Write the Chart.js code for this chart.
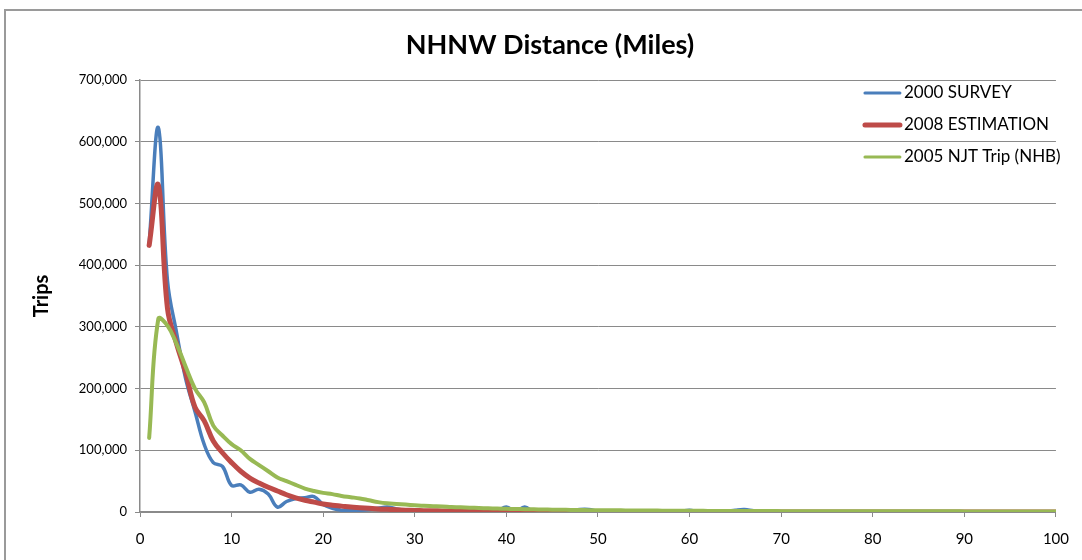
<!DOCTYPE html>
<html>
<head>
<meta charset="utf-8">
<title>NHNW Distance (Miles)</title>
<script src="https://cdn.jsdelivr.net/npm/chart.js@4"></script>
<style>
    body { margin: 0; background: #fff; overflow: hidden; }
    .wrap { position: relative; width: 1082px; height: 560px; }
    .frame { position: absolute; left: 4px; top: 9px; width: 1120px; height: 600px; border: 2px solid #9a9a9a; box-sizing: border-box; }
    canvas { position: absolute; left: 0; top: 0; }
</style>
</head>
<body>
<div class="wrap">
    <div class="frame"></div>
    <canvas id="distChart" width="1082" height="560"></canvas>
</div>
<script>
const chartTitle = 'NHNW Distance (Miles)';

// Trip length in miles (x values)
const miles = [
    1, 2, 3, 4, 5, 6, 7, 8, 9, 10,
    11, 12, 13, 14, 15, 16, 17, 18, 19, 20,
    21, 22, 23, 24, 25, 26, 27, 28, 29, 30,
    31, 32, 33, 34, 35, 36, 37, 38, 39, 40,
    41, 42, 43, 44, 45, 46, 47, 48, 49, 50,
    51, 52, 53, 54, 55, 56, 57, 58, 59, 60,
    61, 62, 63, 64, 65, 66, 67, 68, 69, 70,
    71, 72, 73, 74, 75, 76, 77, 78, 79, 80,
    81, 82, 83, 84, 85, 86, 87, 88, 89, 90,
    91, 92, 93, 94, 95, 96, 97, 98, 99, 100
];

// 2000 SURVEY
const survey2000 = [
    435000, 623000, 375000, 290000, 215000, 163000, 110000, 80000, 74000, 43000,
    44000, 32000, 37000, 29000, 8000, 17000, 22000, 23000, 25000, 12000,
    6000, 3000, 3000, 3000, 4000, 6000, 8000, 5000, 3000, 2000,
    2000, 1000, 1000, 2000, 1000, 1000, 2000, 3000, 2000, 8000,
    1000, 8000, 0, 1000, 0, 1000, 2000, 4000, 4000, 1000,
    0, 1000, 0, 1000, 0, 1000, 0, 1000, 1000, 3000,
    0, 0, 1000, 1000, 3000, 4000, 2000, 1000, 0, 0,
    0, 0, 0, 0, 0, 0, 0, 0, 0, 0,
    0, 0, 0, 0, 0, 0, 0, 0, 0, 0,
    0, 0, 0, 0, 0, 0, 0, 0, 0, 0
];

// 2008 ESTIMATION
const estimation2008 = [
    432000, 530000, 330000, 272000, 225000, 170000, 148000, 115000, 96000, 80000,
    66000, 55000, 47000, 40000, 34000, 28000, 23000, 19000, 16000, 13000,
    11000, 9500, 8000, 7000, 6000, 5000, 4300, 3600, 3000, 2500,
    2200, 2000, 1800, 1600, 1400, 1300, 1200, 1100, 1000, 900,
    850, 800, 750, 700, 650, 600, 560, 520, 480, 450,
    420, 400, 380, 360, 340, 320, 300, 290, 280, 270,
    260, 250, 240, 230, 220, 210, 200, 190, 180, 170,
    160, 150, 150, 140, 130, 130, 120, 110, 110, 100,
    100, 90, 90, 80, 80, 80, 70, 70, 70, 60,
    60, 60, 60, 50, 50, 50, 50, 50, 40, 40
];

// 2005 NJT Trip (NHB)
const njt2005 = [
    120000, 313000, 302000, 272000, 235000, 200000, 178000, 140000, 124000, 110000,
    100000, 86000, 76000, 66000, 56000, 50000, 44000, 38000, 34000, 31000,
    29000, 26000, 24000, 22000, 19000, 16000, 14000, 13000, 12000, 11000,
    10000, 9500, 9000, 8200, 7600, 7000, 6500, 6000, 5600, 5200,
    4900, 4600, 4300, 4000, 3800, 3600, 3400, 3200, 3000, 2900,
    2800, 2700, 2600, 2500, 2400, 2300, 2200, 2100, 2000, 1900,
    1850, 1800, 1750, 1700, 1650, 1600, 1550, 1500, 1450, 1400,
    1380, 1350, 1330, 1300, 1280, 1250, 1230, 1200, 1180, 1150,
    1130, 1100, 1090, 1080, 1060, 1050, 1040, 1030, 1020, 1010,
    1000, 990, 980, 970, 960, 950, 940, 930, 920, 910
];

const yTicks = [0, 100000, 200000, 300000, 400000, 500000, 600000, 700000];
const xTicks = [0, 10, 20, 30, 40, 50, 60, 70, 80, 90, 100];

function toPoints(values) {
    return values.map((v, i) => ({ x: miles[i], y: v }));
}

// Title centred on the whole frame, legend drawn inside the plot area
const chartDecor = {
    id: 'chartDecor',
    afterDraw(chart) {
        const ctx = chart.ctx;
        const area = chart.chartArea;
        ctx.save();

        ctx.fillStyle = '#000';
        ctx.font = 'bold 27px Lato';
        ctx.textAlign = 'center';
        ctx.textBaseline = 'middle';
        ctx.fillText(chartTitle, 550, 45);

        ctx.font = '17px Lato';
        ctx.textAlign = 'left';
        chart.data.datasets.forEach((ds, i) => {
            const y = area.top + 13 + i * 32;
            const x = area.right - 191;
            ctx.strokeStyle = ds.borderColor;
            ctx.lineWidth = ds.legendWidth;
            ctx.lineCap = 'round';
            ctx.beginPath();
            ctx.moveTo(x, y);
            ctx.lineTo(x + 35, y);
            ctx.stroke();
            ctx.fillStyle = '#000';
            ctx.fillText(ds.label, x + 39, y);
        });
        ctx.restore();
    }
};

document.addEventListener('DOMContentLoaded', function() {
    const canvas = document.getElementById('distChart');

    new Chart(canvas, {
        type: 'line',
        data: {
            datasets: [{
                label: '2000 SURVEY',
                data: toPoints(survey2000),
                borderColor: '#4a7ebb',
                borderWidth: 3.5,
                legendWidth: 3,
                order: 3
            }, {
                label: '2008 ESTIMATION',
                data: toPoints(estimation2008),
                borderColor: '#be4b48',
                borderWidth: 5,
                legendWidth: 5,
                order: 2
            }, {
                label: '2005 NJT Trip (NHB)',
                data: toPoints(njt2005),
                borderColor: '#98b954',
                borderWidth: 4,
                legendWidth: 3,
                order: 1
            }]
        },
        options: {
            responsive: false,
            animation: false,
            layout: { padding: { left: 0, right: 22, top: 80, bottom: 0 } },
            elements: {
                point: { radius: 0 },
                line: { tension: 0.4, fill: false, borderCapStyle: 'round', borderJoinStyle: 'round' }
            },
            plugins: {
                legend: { display: false },
                tooltip: { enabled: false },
                title: { display: false }
            },
            scales: {
                x: {
                    type: 'linear',
                    min: 0,
                    max: 100,
                    afterBuildTicks: function(scale) {
                        scale.ticks = xTicks.map(v => ({ value: v }));
                    },
                    afterFit: function(scale) { scale.height = 48; },
                    grid: {
                        display: true,
                        drawOnChartArea: false,
                        drawTicks: true,
                        tickLength: 5,
                        color: '#8a8a8a'
                    },
                    border: { color: '#8a8a8a', width: 1.5 },
                    ticks: {
                        color: '#000',
                        padding: 13,
                        maxRotation: 0,
                        font: { family: 'Lato', size: 15 }
                    }
                },
                y: {
                    min: 0,
                    max: 700000,
                    afterBuildTicks: function(scale) {
                        scale.ticks = yTicks.map(v => ({ value: v }));
                    },
                    afterFit: function(scale) { scale.width = 140; },
                    grid: {
                        color: '#8a8a8a',
                        lineWidth: 1,
                        drawTicks: true,
                        tickLength: 5
                    },
                    border: { color: '#8a8a8a', width: 1.5 },
                    ticks: {
                        color: '#000',
                        padding: 8,
                        font: { family: 'Lato', size: 13 },
                        callback: function(value) {
                            return value.toLocaleString('en-US');
                        }
                    },
                    title: {
                        display: true,
                        text: 'Trips',
                        color: '#000',
                        font: { family: 'Lato', size: 20, weight: 'bold' },
                        padding: { top: 30, bottom: 0 }
                    }
                }
            }
        },
        plugins: [chartDecor]
    });
});
</script>
</body>
</html>
